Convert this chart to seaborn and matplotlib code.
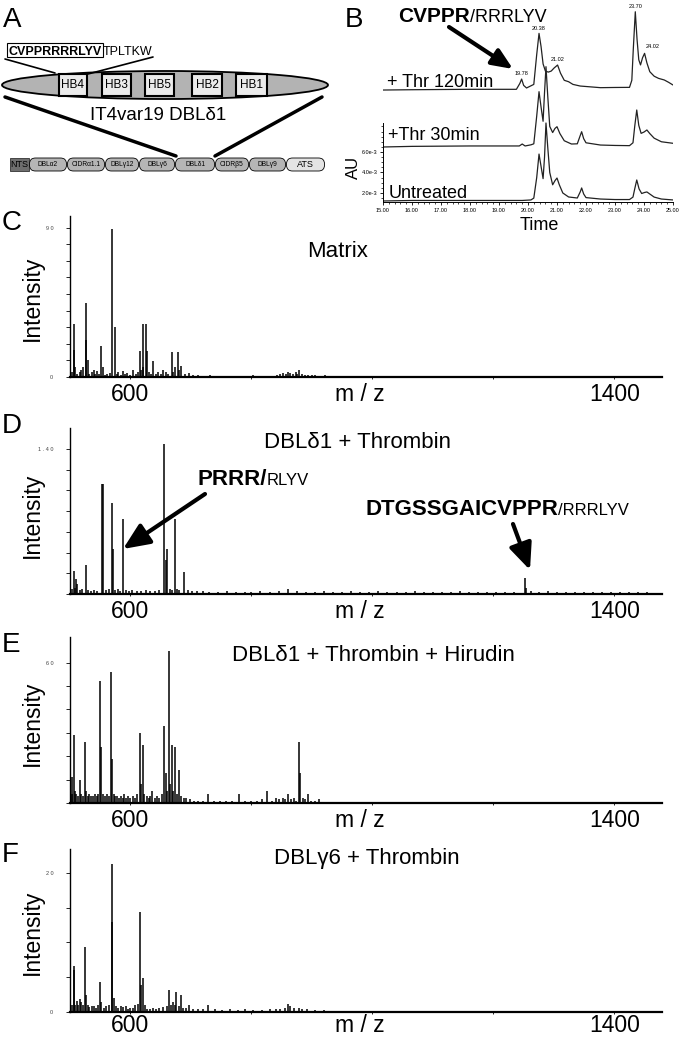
import numpy as np
import pandas as pd
import matplotlib
matplotlib.use("Agg")
import matplotlib.pyplot as plt
import seaborn as sns
from matplotlib.patches import Ellipse, Rectangle, FancyBboxPatch

sns.set_style("ticks")
plt.rcParams['font.family'] = ['Liberation Sans', 'DejaVu Sans']
for k in ['text.color', 'axes.labelcolor', 'xtick.color', 'ytick.color', 'axes.edgecolor']:
    plt.rcParams[k] = 'black'

# ---------------- panel B : chromatograms (AU x 1e-3) ----------------
t_untr = [15.0, 16.0, 17.0, 18.0, 19.0, 19.8, 20.1, 20.2, 20.3, 20.38, 20.45, 20.52, 20.57, 20.62,
          20.68, 20.75, 20.85, 20.93, 21.0, 21.08, 21.2, 21.4, 21.7, 21.8, 21.85, 21.92, 22.0, 22.5,
          23.0, 23.5, 23.62, 23.68, 23.75, 23.83, 23.92, 24.02, 24.1, 24.2, 24.35, 24.6, 25.0]
au_untr = [1.22, 1.27, 1.27, 1.27, 1.27, 1.27, 1.32, 1.5, 3.5, 5.8, 4.6, 3.4, 5.5, 8.83,
           6.5, 4.0, 2.8, 3.2, 3.46, 2.8, 2.0, 1.61, 1.51, 2.1, 2.49, 1.9, 1.55, 1.41,
           1.36, 1.36, 1.6, 2.4, 3.27, 2.4, 1.95, 2.05, 2.1, 1.9, 1.6, 1.41, 1.32]

t_30 = [15.0, 16.0, 17.0, 18.0, 19.0, 19.7, 19.8, 19.9, 20.1, 20.2, 20.3, 20.38, 20.45, 20.52,
        20.57, 20.62, 20.68, 20.75, 20.85, 20.93, 21.0, 21.1, 21.25, 21.5, 21.7, 21.8, 21.85,
        21.92, 22.0, 22.5, 23.0, 23.5, 23.62, 23.68, 23.75, 23.82, 23.9, 24.0, 24.1, 24.2, 24.35,
        24.6, 25.0]
au_30 = [6.49, 6.55, 6.57, 6.59, 6.59, 6.59, 6.78, 6.59, 6.7, 6.8, 9.5, 11.89, 10.4, 9.0,
         11.8, 14.33, 11.5, 8.5, 7.9, 8.3, 8.47, 7.8, 7.1, 6.78, 6.8, 7.6, 7.98,
         7.3, 6.9, 6.68, 6.64, 6.62, 6.9, 8.5, 10.1, 8.6, 7.82, 7.95, 8.15, 7.8, 7.35,
         7.0, 6.85]

t_120 = [15.0, 16.0, 17.0, 18.0, 19.0, 19.6, 19.72, 19.78, 19.85, 19.95, 20.2, 20.3, 20.38, 20.45,
         20.52, 20.6, 20.7, 20.8, 20.9, 21.02, 21.12, 21.25, 21.4, 21.55, 21.8, 22.5, 23.0, 23.5,
         23.58, 23.63, 23.70, 23.76, 23.82, 23.88, 23.95, 24.02, 24.1, 24.2, 24.35, 24.5, 24.7,
         24.85, 25.0]
au_120 = [12.05, 12.08, 12.1, 12.12, 12.12, 12.12, 12.7, 13.12, 12.5, 12.25, 12.6, 15.5, 17.58, 16.3,
          14.6, 13.9, 13.8, 13.9, 14.2, 14.49, 13.7, 13.0, 12.86, 12.6, 12.44, 12.28, 12.3, 12.31,
          13.0, 16.0, 19.69, 17.0, 15.0, 14.5, 15.2, 15.63, 14.7, 13.84, 13.4, 13.19, 13.03,
          12.8, 12.54]

trace_names = ["Untreated", "+Thr 30min", "+ Thr 120min"]
peak_times = [19.78, 20.38, 21.02, 23.70, 24.02]

# ---------------- panels C-F : MALDI spectra (m/z, intensity) ----------------
c_mz = [503, 506, 507, 509, 512, 516, 519, 522, 526, 527, 529, 532, 536, 539, 542, 544, 548, 552,
        554, 558, 562, 566, 570, 574, 577, 580, 584, 587, 591, 595, 600, 605, 609, 612, 615, 617,
        620, 621, 625, 627, 631, 634, 638, 642, 646, 650, 653, 658, 662, 668, 671, 674, 678, 681,
        684, 690, 696, 703, 712, 722, 732, 745, 760, 775, 790, 803, 818, 830, 842, 848, 853, 857,
        860, 864, 868, 873, 876, 879, 884, 888, 893, 900, 905, 914, 922, 960, 1000, 1050, 1100,
        1150, 1200, 1300]
c_int = [3, 16, 32, 6, 2, 3, 4, 6, 44.5, 22, 10.5, 2, 3, 4, 2, 3.5, 2, 18.6,
         6, 1.5, 2, 2.5, 89, 30, 2, 3, 1.5, 3.6, 2, 2.5, 1.5, 4, 2, 3, 15.6, 4,
         32, 6, 31.7, 15.6, 3, 2, 9.5, 2, 3, 2, 4.5, 3, 2, 14.8, 3, 6, 14.8, 4,
         6.5, 2, 2.6, 1, 1.2, 0.8, 1, 0.7, 0.8, 0.6, 0.8, 1, 0.6, 0.8, 1.5, 2, 2.5, 2,
         3, 2.5, 2, 3, 2, 4, 2, 1.5, 1.5, 1, 1, 0.8, 1, 0.5, 0.5, 0.4, 0.4,
         0.4, 0.4, 0.4]

d_mz = [503, 506, 508, 510, 512, 516, 520, 527, 530, 535, 540, 545, 553, 555, 560, 565, 570, 571,
        575, 580, 583, 588, 592, 597, 603, 610, 618, 625, 632, 640, 647, 656, 658, 661, 665, 669,
        673, 677, 681, 689, 695, 702, 710, 720, 730, 745, 760, 775, 790, 800, 815, 830, 845, 860,
        875, 890, 905, 920, 935, 950, 965, 980, 995, 1010, 1025, 1040, 1055, 1070, 1085, 1100,
        1115, 1130, 1145, 1160, 1175, 1190, 1205, 1220, 1235, 1252, 1254, 1262, 1275, 1290, 1305,
        1320, 1335, 1350, 1365, 1380, 1395, 1410, 1425, 1440, 1455]
d_int = [0.05, 0.22, 0.06, 0.14, 0.1, 0.04, 0.05, 0.28, 0.04, 0.03, 0.04, 0.03, 1.06, 1.06, 0.04,
         0.05, 0.88, 0.43, 0.04, 0.05, 0.03, 0.72, 0.04, 0.03, 0.04, 0.03, 0.03, 0.04, 0.03, 0.03,
         0.04, 1.45, 0.33, 0.43, 0.05, 0.04, 0.72, 0.05, 0.04, 0.21, 0.04, 0.03, 0.03, 0.03, 0.02,
         0.02, 0.03, 0.02, 0.02, 0.02, 0.03, 0.02, 0.03, 0.05, 0.03, 0.02, 0.02, 0.03, 0.02, 0.02,
         0.03, 0.02, 0.02, 0.03, 0.02, 0.02, 0.02, 0.03, 0.02, 0.02, 0.02, 0.02, 0.03, 0.02, 0.02,
         0.02, 0.02, 0.02, 0.02, 0.15, 0.06, 0.03, 0.02, 0.03, 0.02, 0.02, 0.02, 0.02, 0.02, 0.02,
         0.02, 0.02, 0.02, 0.02, 0.02]

e_mz = [503, 504, 506, 508, 510, 513, 516, 518, 521, 524, 526, 529, 532, 535, 538, 541, 544, 547,
        550, 552, 555, 558, 561, 564, 567, 569, 572, 575, 578, 581, 584, 587, 590, 593, 596, 600,
        604, 608, 611, 615, 617, 620, 623, 627, 630, 633, 636, 640, 644, 648, 652, 655, 658, 661,
        664, 666, 668, 671, 674, 677, 681, 684, 688, 692, 698, 705, 712, 720, 729, 738, 748, 758,
        768, 779, 790, 800, 810, 818, 826, 834, 840, 846, 852, 856, 861, 866, 870, 874, 878, 880,
        885, 889, 893, 898, 905, 912, 920, 935, 950, 970, 990, 1010, 1030, 1050, 1070, 1090, 1110,
        1130, 1150, 1170, 1190, 1210, 1230, 1250, 1270, 1290, 1310, 1330, 1350, 1370, 1390, 1410,
        1430, 1450]
e_int = [11, 4, 29, 5, 4, 3, 10, 4, 3, 26, 5, 3, 4, 3, 3, 4, 3, 4,
         52, 24, 4, 3, 4, 3, 56, 19, 4, 3, 3, 2, 3, 2, 4, 2, 3, 2,
         3, 2, 4, 30, 8, 25, 4, 3, 2, 3, 5, 2, 3, 2, 4, 33, 13, 5,
         65, 8, 25, 5, 24, 4, 14, 3, 2, 2, 1.5, 1, 1, 1, 4, 1, 1, 0.8,
         1, 4, 0.8, 1, 1, 1.5, 5, 1, 2, 1.5, 2, 1.5, 4, 1.5, 2, 1, 26, 13,
         2, 1.5, 4, 1, 1, 1.5, 0.6, 0.5, 0.5, 0.4, 0.4, 0.4, 0.4, 0.4, 0.4, 0.4, 0.4,
         0.4, 0.4, 0.4, 0.4, 0.4, 0.4, 0.4, 0.4, 0.4, 0.5, 0.4, 0.4, 0.4, 0.5, 0.4,
         0.4, 0.4]

f_mz = [503, 506, 507, 509, 511, 514, 516, 519, 521, 524, 526, 529, 532, 536, 540, 543, 547, 550,
        552, 556, 560, 564, 569, 570, 572, 576, 580, 584, 588, 592, 596, 600, 604, 608, 612, 615,
        618, 621, 624, 628, 632, 637, 642, 648, 654, 660, 664, 667, 671, 674, 676, 680, 683, 687,
        692, 696, 703, 712, 720, 729, 740, 752, 765, 778, 790, 803, 818, 830, 840, 848, 855, 860,
        864, 870, 878, 884, 892, 905, 920, 950, 1000, 1050, 1100, 1150, 1200, 1250, 1300, 1350, 1400]
f_int = [1, 6.6, 6.0, 1, 1.6, 1, 1.8, 1.5, 1, 9.4, 2.4, 1, 0.7, 0.8, 0.8, 0.6, 1, 4.3,
         1.5, 0.6, 0.8, 1, 21.3, 12.9, 2, 0.8, 0.6, 0.8, 0.7, 0.8, 0.5, 0.6, 0.6, 1, 1.2, 14.3,
         3.9, 4.9, 1, 0.5, 0.5, 0.6, 0.5, 0.6, 0.7, 0.8, 3.1, 1, 1.5, 1, 2.9, 0.8, 2.4, 0.6,
         0.6, 1, 0.4, 0.4, 0.4, 1, 0.4, 0.3, 0.4, 0.3, 0.4, 0.3, 0.3, 0.4, 0.4, 0.5, 0.6, 1.2,
         0.8, 0.6, 0.6, 0.5, 0.4, 0.3, 0.3, 0.2, 0.2, 0.2, 0.2, 0.2, 0.2, 0.2, 0.2, 0.2, 0.2]

W, H = 680, 1041
fig = plt.figure(figsize=(W / 100, H / 100), dpi=100)


def px_rect(left, top, right, bottom):
    return [left / W, 1 - bottom / H, (right - left) / W, (bottom - top) / H]


# ---------------- B ----------------
axB = fig.add_axes(px_rect(383, 5, 673, 202))
dfB = pd.concat([
    pd.DataFrame({"time": t_untr, "au": au_untr, "trace": trace_names[0]}),
    pd.DataFrame({"time": t_30, "au": au_30, "trace": trace_names[1]}),
    pd.DataFrame({"time": t_120, "au": au_120, "trace": trace_names[2]}),
])
sns.lineplot(data=dfB, x="time", y="au", units="trace", estimator=None, color="#222222",
             lw=0.9, ax=axB, legend=False)
axB.set_xlim(15, 25)
axB.set_ylim(1.12, 20.35)
axB.set_xlabel("")
axB.set_ylabel("")
sns.despine(ax=axB)
axB.spines['left'].set_bounds(1.12, 8.83)
for s in ['left', 'bottom']:
    axB.spines[s].set_linewidth(0.7)
axB.set_xticks(np.arange(15, 26, 1))
axB.set_xticklabels([f"{v:.2f}" for v in np.arange(15, 26, 1)])
axB.set_xticks(np.arange(15, 25.01, 0.2), minor=True)
axB.set_yticks([2, 4, 6])
axB.set_yticklabels(["2.0e-3", "4.0e-3", "6.0e-3"])
axB.set_yticks(np.arange(1.5, 8.6, 0.5), minor=True)
axB.tick_params(which='major', length=2.5, width=0.6, labelsize=4, pad=1.5)
axB.tick_params(which='minor', length=1.2, width=0.5)
for t in peak_times:
    v = au_120[t_120.index(t)]
    if t == 24.02:
        axB.annotate(f"{t:.2f}", xy=(t, v), xytext=(1, 3), textcoords='offset points',
                     ha='left', va='bottom', fontsize=4)
    else:
        axB.annotate(f"{t:.2f}", xy=(t, v), xytext=(0, 2), textcoords='offset points',
                     ha='center', va='bottom', fontsize=4)

# ---------------- C-F ----------------
spectra = [
    (c_mz, c_int, 216, 377, 97, np.arange(0, 91, 10), ['0'] + [''] * 8 + ['9 0'], 3),
    (d_mz, d_int, 428, 594, 1.6, np.arange(0, 1.41, 0.2), [''] * 7 + ['1 . 4 0'], 3),
    (e_mz, e_int, 637, 803, 71, np.arange(0, 61, 10), [''] * 6 + ['6 0'], 3),
    (f_mz, f_int, 849, 1012, 23.4, np.arange(0, 21, 5), ['0', '', '', '', '2 0'], 0),
]
for mz, inten, top, bottom, ymax, yt, ytl, xpad in spectra:
    ax = fig.add_axes(px_rect(70, top, 662, bottom))
    ax.vlines(mz, 0, inten, color='black', lw=1.1)
    ax.set_xlim(500, 1479)
    ax.set_ylim(0, ymax)
    sns.despine(ax=ax)
    ax.spines['left'].set_linewidth(1.0)
    ax.spines['bottom'].set_linewidth(1.6)
    ax.set_yticks(yt)
    ax.set_yticklabels(ytl)
    ax.tick_params(axis='y', length=3, width=0.6, labelsize=4, pad=9, labelcolor='#444444')
    ax.set_xticks([600, 800, 1000, 1200, 1400])
    ax.set_xticklabels(['600', '', '', '', '1400'])
    ax.tick_params(axis='x', length=1.5, width=0.6, labelsize=16.5, pad=xpad)
    ax.annotate('m / z', xy=(0.49, 0), xycoords='axes fraction', xytext=(0, -(1.5 + xpad)),
                textcoords='offset points', ha='center', va='top', fontsize=16.5)

# ---------------- overlay for diagram and labels (pixel coordinates) ----------------
ov = fig.add_axes([0, 0, 1, 1], zorder=10)
ov.set_xlim(0, W)
ov.set_ylim(H, 0)
ov.axis('off')

# panel A
ov.text(3, 27, "A", fontsize=20, va='baseline')
ov.add_patch(Rectangle((7, 43), 96, 14, fill=False, ec='black', lw=0.8))
ov.text(102, 55, "CVPPRRRRLYV", fontsize=9, fontweight='bold', ha='right', va='baseline')
ov.text(103, 55, "TPLTKW", fontsize=9, ha='left', va='baseline')
ov.plot([5, 55], [59, 73], color='black', lw=1.2)
ov.plot([153, 88], [57, 74], color='black', lw=1.2)
ov.add_patch(Ellipse((165, 85), 326, 28, fc='#b3b3b3', ec='black', lw=1.3))
hb = [("HB4", 59, 87), ("HB3", 102, 131), ("HB5", 145, 174), ("HB2", 192, 222), ("HB1", 236, 267)]
for name, x0, x1 in hb:
    ov.add_patch(Rectangle((x0, 74), x1 - x0, 22, fc='#ebebeb', ec='black', lw=1.5))
    ov.text((x0 + x1) / 2, 85.5, name, fontsize=8.5, ha='center', va='center')
ov.text(158, 120, "IT4var19 DBLδ1", fontsize=13.5, ha='center', va='baseline')
ov.plot([5, 176], [97, 156], color='black', lw=2.5)
ov.plot([322, 215], [97, 156], color='black', lw=2.5)
ov.add_patch(Rectangle((10, 158), 19, 13, fc='#6e6e6e', ec='#333333', lw=0.6))
ov.text(19.5, 164.5, "NTS", fontsize=6.5, ha='center', va='center')
domains = [("DBLα2", 29, 67), ("CIDRα1.1", 67, 105), ("DBLγ12", 105, 139), ("DBLγ6", 139, 175),
           ("DBLδ1", 175, 215), ("CIDRβ5", 215, 249), ("DBLγ9", 249, 286), ("ATS", 286, 325)]
for name, x0, x1 in domains:
    fc = '#e4e4e4' if name == "ATS" else '#b5b5b5'
    ov.add_patch(FancyBboxPatch((x0 + 0.5, 158), x1 - x0 - 1, 13,
                                boxstyle="round,pad=0,rounding_size=6", fc=fc, ec='black', lw=0.6))
    ov.text((x0 + x1) / 2, 164.8, name, fontsize=6.5 if name == "ATS" else 4.8,
            ha='center', va='center')

# panel B labels
ov.text(345, 27, "B", fontsize=20, va='baseline')
ov.text(470, 22, "CVPPR", fontsize=15, fontweight='bold', ha='right', va='baseline')
ov.text(470, 22, "/RRRLYV", fontsize=13, ha='left', va='baseline')
ov.annotate('', xy=(513, 69), xytext=(449, 27),
            arrowprops=dict(arrowstyle='-|>,head_length=0.7,head_width=0.3', lw=3,
                            color='black', mutation_scale=18, shrinkA=0, shrinkB=0))
ov.text(387, 87, "+ Thr 120min", fontsize=13, va='baseline')
ov.text(388, 140, "+Thr 30min", fontsize=13, va='baseline')
ov.text(389, 198, "Untreated", fontsize=13, va='baseline')
ov.text(539, 230, "Time", fontsize=13, ha='center', va='baseline')
ov.text(353, 167, "AU", fontsize=12, rotation=90, ha='center', va='center')

# panels C-F labels
letters = [("C", 230, 298, "Matrix", 338, 257),
           ("D", 433, 515, "DBLδ1 + Thrombin", 357, 448),
           ("E", 652, 723, "DBLδ1 + Thrombin + Hirudin", 373, 661),
           ("F", 862, 932, "DBLγ6 + Thrombin", 367, 864)]
for letter, ly, iy, title, tx, ty in letters:
    ov.text(2, ly, letter, fontsize=20, va='baseline')
    ov.text(32, iy, "Intensity", fontsize=16.5, rotation=90, ha='center', va='center')
    ov.text(tx, ty, title, fontsize=16, ha='center', va='baseline')

ov.text(267, 485, "PRRR/", fontsize=16, fontweight='bold', ha='right', va='baseline')
ov.text(267, 485, "RLYV", fontsize=12, ha='left', va='baseline')
ov.annotate('', xy=(123, 549), xytext=(205, 494),
            arrowprops=dict(arrowstyle='-|>,head_length=0.8,head_width=0.35', lw=3,
                            color='black', mutation_scale=20, shrinkA=0, shrinkB=0))
ov.text(558, 515, "DTGSSGAICVPPR", fontsize=16, fontweight='bold', ha='right', va='baseline')
ov.text(558, 515, "/RRRLYV", fontsize=12, ha='left', va='baseline')
ov.annotate('', xy=(530, 570), xytext=(513, 524),
            arrowprops=dict(arrowstyle='-|>,head_length=0.8,head_width=0.35', lw=3,
                            color='black', mutation_scale=20, shrinkA=0, shrinkB=0))

fig.savefig("out.png", dpi=100)
